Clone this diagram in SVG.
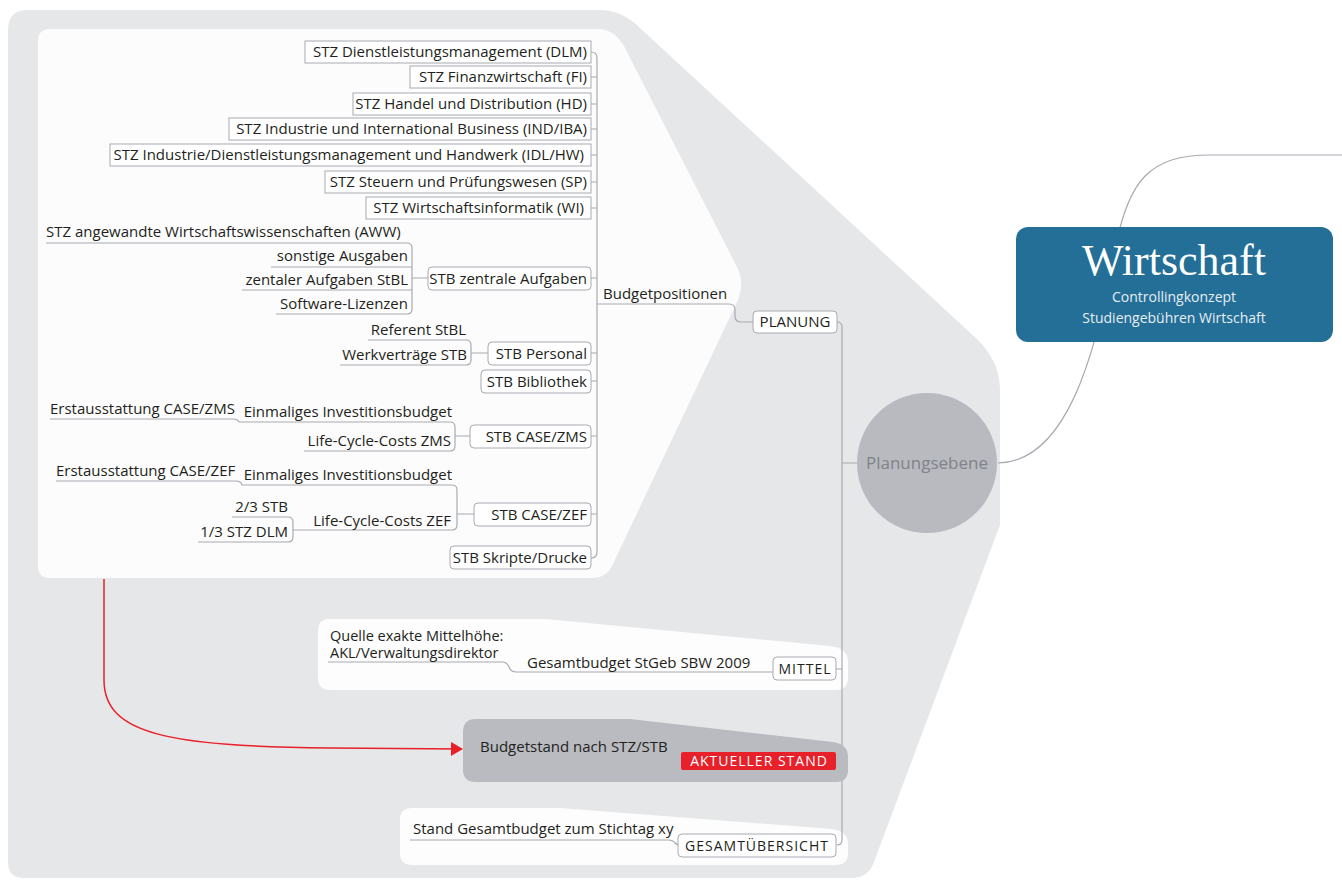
<svg xmlns="http://www.w3.org/2000/svg" width="1342" height="880" viewBox="0 0 1342 880">
<style>
text{font-family:"Open Sans","Noto Sans","Liberation Sans",sans-serif;font-size:15px;fill:#231f20}
.e{text-anchor:end}
.m{text-anchor:middle}
.cap{letter-spacing:1px;font-size:14px}
.box{fill:#fff;stroke:#a8aab1;stroke-width:1}
.ln{fill:none;stroke:#a8aab1;stroke-width:1.2}
</style>
<defs>
<marker id="arr" viewBox="0 0 12 14" refX="11" refY="7" markerWidth="12" markerHeight="14" markerUnits="userSpaceOnUse" orient="auto">
<path d="M0 0 L12 7 L0 14 Z" fill="#e8202a"/>
</marker>
</defs>
<rect width="1342" height="880" fill="#fff"/>
<g id="background">
<path d="M28 10 H600 Q622 10 640 28 L978 340 Q1000 362 1000 390 V525 L874 862 Q868 878 852 878 H24 Q8 878 8 862 V30 Q8 10 28 10 Z" fill="#e6e7e9"/>
<path d="M50 29 H598 Q615 29 625 48 L737 267 Q745 283 738 300 L612 566 Q606 578 592 578 H50 Q38 578 38 566 V41 Q38 29 50 29 Z" fill="#fcfcfc"/>
<path d="M330 619 H545 L830 646 Q848 648 848 662 V678 Q848 690 836 690 H330 Q318 690 318 678 V631 Q318 619 330 619 Z" fill="#fdfdfd"/>
<path d="M412 808 H560 L832 829 Q848 831 848 844 V853 Q848 865 836 865 H412 Q400 865 400 853 V820 Q400 808 412 808 Z" fill="#fdfdfd"/>
</g>
<g id="connectors">
<path class="ln" d="M591 52 Q597 52 597 58 V552 Q597 558 591 558"/>
<path class="ln" d="M591 77 H597 M591 104 H597 M591 129 H597 M591 155 H597 M591 182 H597 M591 208 H597 M591 278 H597 M591 353 H597 M591 381 H597 M591 436 H597 M591 514 H597"/>
<path class="ln" d="M597 304 H729 Q735 304 735 310 V316 Q735 322 741 322 H753"/>
<path class="ln" d="M46 243 H407 Q412 243 412 248 V309 Q412 314 407 314 H276 M271 267 H412 M242 290 H412 M412 278 H428"/>
<path class="ln" d="M368 340 H466 Q471 340 471 345 V360 Q471 365 466 365 H340 M471 353 H488"/>
<path class="ln" d="M50 419 H233 Q238 419 239 422 H450 Q455 422 455 427 V446 Q455 451 450 451 H304 M455 436 H470"/>
<path class="ln" d="M56 481 H236 Q241 481 242 485 H452 Q457 485 457 490 V525 Q457 530 452 530 H293 M457 514 H474"/>
<path class="ln" d="M232 517 H288 Q293 517 293 522 V537 Q293 542 288 542 H198"/>
<path class="ln" d="M837 322 Q842 322 842 327 V840 Q842 845 837 845 M836 669 H842 M842 463 H857"/>
<path class="ln" d="M328 662 H502 Q507 662 509 667 Q511 672 516 672 H773"/>
<path class="ln" d="M410 840 H668 Q673 840 675 843 Q677 845 680 845"/>
<path class="ln" d="M998 463 C1065 462 1095 360 1115 250 C1128 180 1150 155 1210 155 H1342"/>
<path d="M104 579 V680 C104 735 170 746 330 748 L462 749" fill="none" stroke="#e8202a" stroke-width="1.5" marker-end="url(#arr)"/>
</g>
<g id="n-dlm"><rect class="box" x="305" y="41" width="286" height="22"/><text class="e" x="587" y="57">STZ Dienstleistungsmanagement (DLM)</text></g>
<g id="n-fi"><rect class="box" x="410" y="66" width="181" height="22"/><text class="e" x="587" y="82">STZ Finanzwirtschaft (FI)</text></g>
<g id="n-hd"><rect class="box" x="353" y="93" width="238" height="22"/><text class="e" x="587" y="109">STZ Handel und Distribution (HD)</text></g>
<g id="n-ind"><rect class="box" x="229" y="118" width="362" height="22"/><text class="e" x="587" y="134">STZ Industrie und International Business (IND/IBA)</text></g>
<g id="n-idl"><rect class="box" x="110" y="144" width="481" height="22"/><text class="e" x="584" y="160">STZ Industrie/Dienstleistungsmanagement und Handwerk (IDL/HW)</text></g>
<g id="n-sp"><rect class="box" x="325" y="171" width="266" height="22"/><text class="e" x="587" y="187">STZ Steuern und Prüfungswesen (SP)</text></g>
<g id="n-wi"><rect class="box" x="366" y="197" width="225" height="22"/><text class="e" x="584" y="213">STZ Wirtschaftsinformatik (WI)</text></g>
<g id="n-aww"><text x="46" y="237">STZ angewandte Wirtschaftswissenschaften (AWW)</text></g>
<g id="n-sonst"><text class="e" x="408" y="261">sonstige Ausgaben</text></g>
<g id="n-zent"><text class="e" x="408" y="285">zentaler Aufgaben StBL</text></g>
<g id="n-soft"><text class="e" x="408" y="309">Software-Lizenzen</text></g>
<g id="n-stbz"><rect class="box" x="428" y="267" width="163" height="23" rx="4"/><text class="e" x="587" y="284">STB zentrale Aufgaben</text></g>
<g id="n-budget"><text x="603" y="299">Budgetpositionen</text></g>
<g id="n-planung"><rect class="box" x="753" y="311" width="84" height="22" rx="4"/><text class="m" x="795" y="327">PLANUNG</text></g>
<g id="n-ref"><text class="e" x="466" y="335">Referent StBL</text></g>
<g id="n-werk"><text class="e" x="467" y="360">Werkverträge STB</text></g>
<g id="n-pers"><rect class="box" x="488" y="342" width="103" height="23" rx="4"/><text class="e" x="587" y="359">STB Personal</text></g>
<g id="n-bib"><rect class="box" x="481" y="370" width="110" height="23" rx="4"/><text class="e" x="587" y="387">STB Bibliothek</text></g>
<g id="n-erst1"><text x="50" y="414">Erstausstattung CASE/ZMS</text></g>
<g id="n-einm1"><text class="e" x="452" y="417">Einmaliges Investitionsbudget</text></g>
<g id="n-lcc1"><text class="e" x="451" y="446">Life-Cycle-Costs ZMS</text></g>
<g id="n-zms"><rect class="box" x="470" y="425" width="121" height="23" rx="4"/><text class="e" x="587" y="442">STB CASE/ZMS</text></g>
<g id="n-erst2"><text x="56" y="476">Erstausstattung CASE/ZEF</text></g>
<g id="n-einm2"><text class="e" x="452" y="480">Einmaliges Investitionsbudget</text></g>
<g id="n-23"><text class="e" x="288" y="512">2/3 STB</text></g>
<g id="n-13"><text class="e" x="288" y="537">1/3 STZ DLM</text></g>
<g id="n-lcc2"><text class="e" x="451" y="526">Life-Cycle-Costs ZEF</text></g>
<g id="n-zef"><rect class="box" x="474" y="503" width="117" height="23" rx="4"/><text class="e" x="587" y="520">STB CASE/ZEF</text></g>
<g id="n-skript"><rect class="box" x="450" y="546" width="141" height="23" rx="4"/><text class="e" x="587" y="563">STB Skripte/Drucke</text></g>
<g id="n-quelle"><text x="330" y="641" style="font-size:14.5px">Quelle exakte Mittelhöhe:</text><text x="330" y="658" style="font-size:14.5px">AKL/Verwaltungsdirektor</text></g>
<g id="n-gesamtbudget"><text x="527" y="668">Gesamtbudget StGeb SBW 2009</text></g>
<g id="n-mittel"><rect class="box" x="773" y="657" width="63" height="23" rx="4"/><text class="m cap" x="805" y="674">MITTEL</text></g>
<g id="n-budgetstand">
<path d="M476 719 H630 L833 742 Q848 744 848 757 V770 Q848 782 836 782 H476 Q463 782 463 770 V732 Q463 719 476 719 Z" fill="#b9bbc1"/>
<text x="480" y="752">Budgetstand nach STZ/STB</text>
<rect x="681" y="752" width="155" height="18" rx="2" fill="#e8202a"/>
<text class="m cap" x="759" y="766" style="fill:#fff">AKTUELLER STAND</text>
</g>
<g id="n-stand"><text x="413" y="834">Stand Gesamtbudget zum Stichtag xy</text></g>
<g id="n-gesamt"><rect class="box" x="678" y="834" width="158" height="23" rx="4"/><text class="m cap" x="757" y="851">GESAMTÜBERSICHT</text></g>
<g id="n-planungsebene"><circle cx="927" cy="463" r="70" fill="#b8bac0"/><text class="m" x="927" y="469" style="font-size:17px;fill:#80838b">Planungsebene</text></g>
<g id="n-wirtschaft">
<rect x="1016" y="227" width="317" height="115" rx="12" fill="#236f97"/>
<text class="m" x="1174" y="275" style="font-family:'Liberation Serif',serif;font-size:44px;fill:#fff">Wirtschaft</text>
<text class="m" x="1174" y="302" style="font-size:14px;fill:#e6eef3">Controllingkonzept</text>
<text class="m" x="1174" y="323" style="font-size:14px;fill:#e6eef3">Studiengebühren Wirtschaft</text>
</g>
</svg>
